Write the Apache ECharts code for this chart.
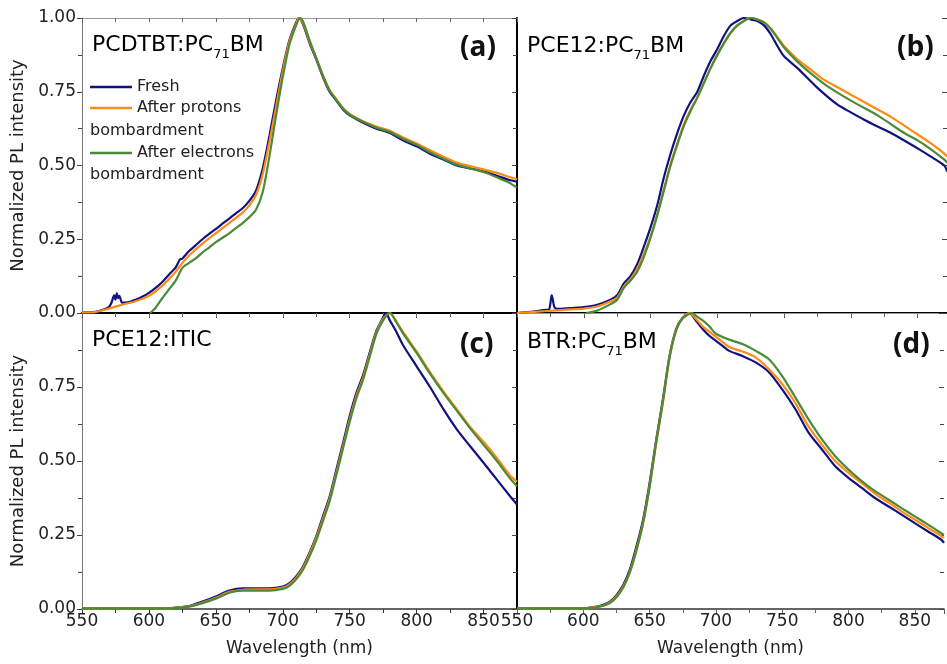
<!DOCTYPE html>
<html><head><meta charset="utf-8">
<script src="https://cdn.jsdelivr.net/npm/echarts@6/dist/echarts.min.js"></script>
<style>html,body{margin:0;padding:0;background:#fff}#c{width:947px;height:664px}</style>
</head><body><div id="c"></div>
<script>
// ---------------- data ----------------
const seriesNames = ['Fresh', 'After protons bombardment', 'After electrons bombardment'];
const panelTitles = ['PCDTBT:PC|71|BM', 'PCE12:PC|71|BM', 'PCE12:ITIC', 'BTR:PC|71|BM'];
const panelLetters = ['(a)', '(b)', '(c)', '(d)'];
const xTicks = [550, 600, 650, 700, 750, 800, 850];
const yTicks = [0.00, 0.25, 0.50, 0.75, 1.00];

// (a) PCDTBT:PC71BM
const aFresh = [[550,.003],[560,.004],[565,.01],[570,.02],[572,.035],[574,.06],[575,.045],[576,.067],[577,.05],[578,.058],[580,.035],[585,.037],[590,.045],[595,.055],[600,.068],[605,.085],[610,.105],[615,.13],[620,.155],[623,.18],[625,.185],[630,.21],[635,.23],[640,.25],[645,.268],[650,.285],[655,.303],[660,.32],[665,.338],[670,.355],[675,.38],[680,.415],[685,.49],[690,.6],[695,.72],[700,.83],[705,.925],[710,.985],[712,1.0],[715,.98],[720,.915],[725,.86],[730,.80],[735,.75],[740,.72],[745,.69],[750,.67],[760,.645],[770,.625],[780,.61],[790,.585],[800,.565],[810,.54],[820,.52],[830,.50],[840,.49],[850,.48],[860,.465],[870,.45],[875,.445]];
const aProton = [[550,.002],[560,.003],[570,.015],[580,.028],[590,.04],[600,.058],[610,.093],[620,.14],[625,.17],[630,.195],[640,.235],[650,.27],[660,.305],[670,.34],[675,.365],[680,.40],[685,.47],[690,.58],[695,.70],[700,.82],[705,.92],[710,.98],[712,1.0],[715,.985],[720,.92],[725,.865],[730,.805],[735,.755],[740,.725],[745,.695],[750,.675],[760,.65],[770,.632],[780,.618],[790,.595],[800,.575],[810,.552],[820,.53],[830,.51],[840,.498],[850,.487],[860,.475],[870,.46],[875,.453]];
const aElectron = [[601,0],[605,.018],[610,.05],[615,.08],[620,.11],[625,.153],[630,.17],[635,.185],[640,.205],[645,.222],[650,.24],[655,.255],[660,.27],[665,.288],[670,.305],[675,.325],[680,.35],[685,.41],[690,.53],[695,.67],[700,.80],[705,.91],[710,.975],[713,1.0],[715,.99],[720,.925],[725,.865],[730,.805],[735,.755],[740,.722],[745,.693],[750,.672],[760,.648],[770,.628],[780,.614],[790,.59],[800,.57],[810,.545],[820,.523],[830,.503],[840,.49],[850,.478],[860,.46],[870,.44],[875,.425]];

// (b) PCE12:PC71BM
const bFresh = [[550,0],[560,.004],[570,.01],[574,.012],[576,.061],[578,.02],[580,.014],[590,.017],[600,.02],[610,.028],[620,.045],[625,.06],[630,.10],[635,.125],[640,.165],[645,.225],[650,.29],[655,.365],[660,.46],[665,.54],[670,.61],[675,.67],[680,.715],[685,.75],[690,.805],[695,.855],[700,.895],[705,.94],[710,.975],[715,.99],[720,1.0],[725,.995],[730,.99],[735,.975],[740,.945],[745,.905],[750,.87],[760,.83],[775,.763],[790,.706],[800,.68],[810,.655],[820,.632],[830,.61],[840,.585],[850,.558],[860,.53],[870,.50],[872,.48]];
const bProton = [[550,0],[570,.006],[590,.012],[600,.015],[610,.022],[620,.04],[625,.052],[630,.09],[635,.115],[640,.15],[645,.20],[650,.26],[655,.335],[660,.42],[665,.505],[670,.575],[675,.64],[680,.69],[685,.73],[690,.78],[695,.83],[700,.875],[705,.915],[710,.95],[715,.975],[720,.99],[725,1.0],[730,.995],[735,.985],[740,.965],[745,.935],[750,.905],[760,.86],[770,.825],[780,.79],[790,.765],[800,.74],[810,.715],[820,.69],[830,.665],[840,.635],[850,.605],[860,.575],[870,.54],[872,.53]];
const bElectron = [[602,0],[610,.008],[620,.03],[625,.045],[630,.085],[635,.11],[640,.14],[645,.19],[650,.255],[655,.33],[660,.415],[665,.50],[670,.57],[675,.635],[680,.685],[685,.73],[690,.78],[695,.83],[700,.875],[705,.915],[710,.95],[715,.975],[720,.99],[725,1.0],[730,.995],[735,.985],[740,.963],[745,.932],[750,.90],[760,.852],[770,.812],[780,.777],[790,.747],[800,.72],[810,.695],[820,.67],[830,.64],[840,.61],[850,.585],[860,.555],[870,.52],[872,.51]];

// (c) PCE12:ITIC
const cFresh = [[550,.002],[580,.002],[610,.002],[620,.005],[630,.01],[640,.025],[650,.042],[660,.062],[670,.07],[680,.07],[690,.07],[700,.076],[705,.087],[710,.11],[715,.143],[720,.19],[725,.245],[730,.313],[735,.38],[740,.47],[745,.56],[750,.652],[755,.73],[760,.79],[765,.867],[770,.94],[775,.985],[777,1.0],[780,.975],[785,.935],[790,.89],[800,.82],[810,.75],[820,.675],[830,.607],[840,.55],[850,.494],[860,.437],[870,.38],[875,.353]];
const cProton = [[550,.001],[610,.001],[620,.004],[630,.009],[640,.022],[650,.038],[660,.058],[670,.065],[680,.066],[690,.066],[700,.072],[705,.083],[710,.105],[715,.138],[720,.185],[725,.24],[730,.305],[735,.372],[740,.46],[745,.55],[750,.64],[755,.72],[760,.782],[765,.86],[770,.935],[775,.98],[780,1.0],[785,.97],[790,.935],[800,.87],[810,.80],[820,.735],[830,.675],[840,.615],[850,.565],[860,.51],[870,.45],[875,.43]];
const cElectron = [[550,.001],[610,.001],[620,.003],[630,.008],[640,.02],[650,.035],[660,.055],[670,.062],[680,.062],[690,.062],[700,.068],[705,.078],[710,.10],[715,.132],[720,.178],[725,.232],[730,.297],[735,.364],[740,.452],[745,.542],[750,.632],[755,.712],[760,.775],[765,.853],[770,.93],[775,.975],[780,1.0],[785,.968],[790,.93],[800,.865],[810,.795],[820,.73],[830,.67],[840,.61],[850,.555],[860,.50],[870,.44],[875,.415]];

// (d) BTR:PC71BM
const dFresh = [[550,.002],[600,.002],[605,.005],[610,.008],[615,.014],[620,.025],[625,.047],[630,.08],[635,.132],[640,.21],[645,.30],[650,.426],[655,.573],[660,.708],[665,.855],[670,.946],[675,.985],[680,1.0],[685,.974],[690,.946],[695,.923],[700,.906],[705,.889],[710,.872],[720,.855],[730,.833],[740,.80],[750,.742],[760,.675],[770,.595],[780,.539],[790,.482],[800,.443],[810,.409],[820,.375],[830,.347],[840,.319],[850,.29],[860,.262],[870,.234],[872,.223]];
const dProton = [[550,.001],[600,.001],[605,.004],[610,.007],[615,.012],[620,.022],[625,.043],[630,.075],[635,.125],[640,.20],[645,.29],[650,.415],[655,.565],[660,.70],[665,.85],[670,.943],[675,.985],[680,1.0],[685,.98],[690,.955],[700,.92],[710,.885],[720,.87],[730,.85],[740,.81],[750,.76],[760,.695],[770,.615],[780,.555],[790,.50],[800,.46],[810,.425],[820,.39],[830,.36],[840,.33],[850,.302],[860,.274],[870,.246],[872,.24]];
const dElectron = [[550,.001],[600,.001],[605,.003],[610,.006],[615,.011],[620,.02],[625,.04],[630,.072],[635,.122],[640,.197],[645,.288],[650,.412],[655,.562],[660,.698],[665,.848],[670,.94],[675,.982],[682,1.0],[685,.99],[690,.975],[695,.955],[700,.93],[710,.91],[720,.895],[730,.872],[740,.844],[750,.787],[760,.714],[770,.64],[780,.573],[790,.516],[800,.471],[810,.432],[820,.398],[830,.37],[840,.341],[850,.313],[860,.285],[870,.256],[872,.25]];

const panelData = [[aFresh, aProton, aElectron],[bFresh, bProton, bElectron],[cFresh, cProton, cElectron],[dFresh, dProton, dElectron]];

// ---------------- chart ----------------
const FONT = 'DejaVu Sans';
const COLORS = ['#10127e', '#ff8a14', '#4b8b37'];
const grids = [
  {left: 82, top: 18, width: 435, height: 295},
  {left: 517, top: 18, width: 430, height: 295},
  {left: 82, top: 313, width: 435, height: 296},
  {left: 517, top: 313, width: 430, height: 296}
];
const xMax = [875, 872, 875, 872];

const xAxes = [];
const yAxes = [];
for (let p = 0; p < 4; p++) {
  const bottomRow = p >= 2;
  xAxes.push({
    type: 'value', gridIndex: p, position: 'bottom', min: 550, max: xMax[p], interval: 50,
    name: bottomRow ? 'Wavelength (nm)' : '', nameLocation: 'middle', nameGap: 31,
    nameTextStyle: {fontFamily: FONT, fontSize: 17, color: '#222'},
    axisLine: {show: true, lineStyle: {color: bottomRow ? '#333' : '#000', width: bottomRow ? 1.5 : 2}},
    axisTick: {show: true, inside: false, length: 5, lineStyle: {color: '#333'}},
    minorTick: {show: true, splitNumber: 2, length: 4, lineStyle: {color: '#333'}},
    axisLabel: {show: bottomRow, fontFamily: FONT, fontSize: 17, color: '#222', margin: 4,
      formatter: v => (xTicks.indexOf(v) >= 0 ? String(v) : '')},
    splitLine: {show: false}
  });
}
for (let p = 0; p < 4; p++) {
  const topRow = p < 2;
  xAxes.push({
    type: 'value', gridIndex: p, position: 'top', min: 550, max: xMax[p], interval: 50,
    axisLine: {show: topRow, lineStyle: {color: '#999', width: 1}},
    axisTick: {show: true, inside: true, length: 4, lineStyle: {color: '#666'}},
    minorTick: {show: true, splitNumber: 2, length: 4, lineStyle: {color: '#666'}},
    axisLabel: {show: false}, splitLine: {show: false}
  });
}
for (let p = 0; p < 4; p++) {
  const leftCol = (p % 2) === 0;
  yAxes.push({
    type: 'value', gridIndex: p, position: 'left', min: 0, max: 1, interval: 0.25,
    name: leftCol ? 'Normalized PL intensity' : '', nameLocation: 'middle', nameGap: 55,
    nameTextStyle: {fontFamily: FONT, fontSize: 18, color: '#222'},
    axisLine: {show: true, lineStyle: {color: leftCol ? '#777' : '#000', width: leftCol ? 1 : 2}},
    axisTick: {show: true, inside: false, length: 5, lineStyle: {color: '#444'}},
    minorTick: {show: true, splitNumber: 2, length: 4, lineStyle: {color: '#444'}},
    axisLabel: {show: leftCol, fontFamily: FONT, fontSize: 17, color: '#222', margin: 6,
      showMaxLabel: p === 0,
      formatter: v => (yTicks.indexOf(v) >= 0 ? v.toFixed(2) : '')},
    splitLine: {show: false}
  });
}
// right-side inner ticks of the right-hand panels
for (const p of [1, 3]) {
  yAxes.push({
    type: 'value', gridIndex: p, position: 'right', min: 0, max: 1, interval: 0.25,
    axisLine: {show: false},
    axisTick: {show: true, inside: true, length: 5, lineStyle: {color: '#444'}},
    minorTick: {show: true, splitNumber: 2, length: 4, lineStyle: {color: '#444'}},
    axisLabel: {show: false}, splitLine: {show: false}
  });
}

const series = [];
for (let p = 0; p < 4; p++) {
  for (let s = 0; s < 3; s++) {
    series.push({
      type: 'line', name: seriesNames[s], xAxisIndex: p, yAxisIndex: p,
      data: panelData[p][s], symbol: 'none', smooth: 0.25,
      color: COLORS[s], lineStyle: {width: 2.2, color: COLORS[s]}, z: 2 + s,
      animation: false
    });
  }
}

function legendAt(name, top, label) {
  return {
    data: [name], left: 90, top: top, orient: 'vertical', padding: 0, itemGap: 0,
    icon: 'rect', itemWidth: 42, itemHeight: 2.5, selectedMode: false,
    textStyle: {fontFamily: FONT, fontSize: 16, color: '#222'},
    formatter: () => label
  };
}

function titleText(t, x, y) {
  const parts = t.split('|');
  let text = '{t|' + parts[0] + '}';
  if (parts.length > 1) text += '{s|' + parts[1] + '}{t|' + parts[2] + '}';
  return {
    type: 'text', x: x, y: y, z: 50,
    style: {
      text: text, verticalAlign: 'middle', align: 'left',
      rich: {
        t: {fontFamily: FONT, fontSize: 22, color: '#111', lineHeight: 26},
        s: {fontFamily: FONT, fontSize: 13, color: '#111', lineHeight: 13, padding: [20, 0, 0, 0]}
      }
    }
  };
}
function letterText(t, x, y) {
  return {type: 'text', x: x, y: y, z: 50,
    style: {text: t, font: 'bold 28px "Open Sans"', fill: '#111', verticalAlign: 'middle', align: 'left'}};
}

const graphic = [
  titleText(panelTitles[0], 92, 45),
  titleText(panelTitles[1], 527, 46),
  titleText(panelTitles[2], 92, 340),
  titleText(panelTitles[3], 527, 342),
  letterText(panelLetters[0], 460, 48),
  letterText(panelLetters[1], 897, 48),
  letterText(panelLetters[2], 460, 345),
  letterText(panelLetters[3], 893, 345),
  {type: 'text', x: 90, y: 131, z: 50, style: {text: 'bombardment', font: '16px "DejaVu Sans"', fill: '#222', verticalAlign: 'middle'}},
  {type: 'text', x: 90, y: 175, z: 50, style: {text: 'bombardment', font: '16px "DejaVu Sans"', fill: '#222', verticalAlign: 'middle'}}
];

const chart = echarts.init(document.getElementById('c'), null, {renderer: 'canvas'});
chart.setOption({
  backgroundColor: '#fff',
  animation: false,
  grid: grids,
  xAxis: xAxes,
  yAxis: yAxes,
  legend: [
    legendAt(seriesNames[0], 79, 'Fresh'),
    legendAt(seriesNames[1], 100, 'After protons'),
    legendAt(seriesNames[2], 145, 'After electrons')
  ],
  graphic: graphic,
  series: series
});
</script>
</body></html>
